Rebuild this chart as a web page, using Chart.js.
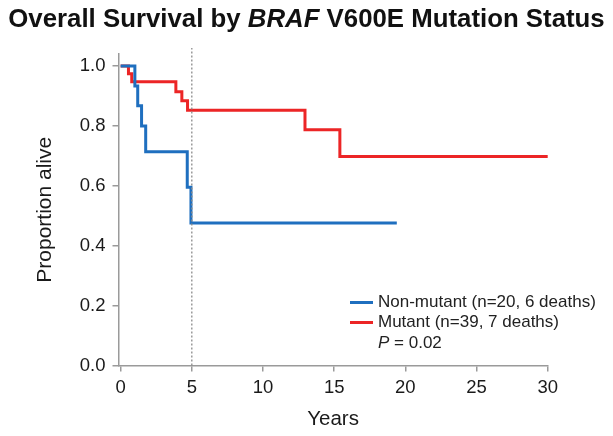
<!DOCTYPE html>
<html><head><meta charset="utf-8">
<script src="https://cdn.jsdelivr.net/npm/chart.js@4"></script>
<style>
html,body{margin:0;padding:0;background:#fff;}
#wrap{position:relative;width:613px;height:436px;font-family:"Liberation Sans",Arial,sans-serif;overflow:hidden;}
#title{position:absolute;left:0;top:3px;width:613px;text-align:center;font-weight:bold;font-size:25.8px;line-height:30px;color:#111;white-space:nowrap;}
#c{position:absolute;left:0;top:0;}
.leg{position:absolute;left:350px;font-size:17px;line-height:20px;height:20px;color:#222;white-space:nowrap;display:flex;align-items:center;}
.sw{display:inline-block;width:23px;height:3px;margin-right:5px;}
</style></head>
<body>
<div id="wrap">
<canvas id="c" width="613" height="436"></canvas>
<div id="title">Overall Survival by <i>BRAF</i> V600E Mutation Status</div>
<div class="leg" id="leg1" style="top:292px"><span class="sw" id="sw1"></span><span id="lt1"></span></div>
<div class="leg" id="leg2" style="top:312px"><span class="sw" id="sw2"></span><span id="lt2"></span></div>
<div class="leg" style="top:333px;left:378px"><span><i>P</i> = 0.02</span></div>
</div>
<script>
// Data
const nonMutantLabel = "Non-mutant (n=20, 6 deaths)";
const mutantLabel = "Mutant (n=39, 7 deaths)";
const nonMutantTimes = [0, 1.0, 1.2, 1.47, 1.76, 4.68, 4.94, 19.4];
const nonMutantSurv  = [1.0, 0.933, 0.867, 0.80, 0.714, 0.595, 0.476, 0.476];
const mutantTimes = [0, 0.55, 0.78, 3.88, 4.3, 4.7, 12.95, 15.4, 30];
const mutantSurv  = [1.0, 0.974, 0.947, 0.914, 0.884, 0.852, 0.787, 0.698, 0.698];
const xTickValues = [0, 5, 10, 15, 20, 25, 30];
const yTickValues = [0, 0.2, 0.4, 0.6, 0.8, 1.0];
const refLineX = [5, 5];
const refLineY = [0, 1.06];

const blue = '#1f6fbf';
const red = '#ec2526';
const axisGray = '#9a9a9a';

document.getElementById('sw1').style.background = blue;
document.getElementById('sw2').style.background = red;
document.getElementById('lt1').textContent = nonMutantLabel;
document.getElementById('lt2').textContent = mutantLabel;

const toPts = (xs, ys) => xs.map((x, i) => ({x: x, y: ys[i]}));

new Chart(document.getElementById('c'), {
  type: 'line',
  data: {
    datasets: [
      {label: 'ref', data: toPts(refLineX, refLineY), borderColor: '#8a8a8a', borderWidth: 1.3, borderDash: [2, 2], pointRadius: 0, clip: false},
      {label: nonMutantLabel, data: toPts(nonMutantTimes, nonMutantSurv), borderColor: blue, borderWidth: 3, stepped: 'before', pointRadius: 0, borderCapStyle: 'butt', clip: false},
      {label: mutantLabel, data: toPts(mutantTimes, mutantSurv), borderColor: red, borderWidth: 3, stepped: 'before', pointRadius: 0, borderCapStyle: 'butt', clip: false}
    ]
  },
  options: {
    responsive: false,
    animation: false,
    devicePixelRatio: 1,
    layout: {padding: {left: 29, top: 54, right: 65.3, bottom: 0}},
    plugins: {legend: {display: false}, title: {display: false}, tooltip: {enabled: false}},
    scales: {
      x: {
        type: 'linear', min: -0.15, max: 30,
        afterBuildTicks: s => { s.ticks = xTickValues.map(v => ({value: v})); },
        afterFit: s => { s.height = 70.5; },
        ticks: {font: {family: '"Liberation Sans", Arial, sans-serif', size: 18.5}, color: '#1a1a1a', padding: 5, maxRotation: 0, callback: v => String(v)},
        grid: {drawOnChartArea: false, drawTicks: true, tickLength: 6, color: axisGray, lineWidth: 1.5},
        border: {color: axisGray, width: 1.5},
        title: {display: true, text: 'Years', font: {family: '"Liberation Sans", Arial, sans-serif', size: 20.5}, color: '#1a1a1a', padding: {top: 4, bottom: 4}}
      },
      y: {
        type: 'linear', min: 0, max: 1.04,
        afterBuildTicks: s => { s.ticks = yTickValues.map(v => ({value: v})); },
        afterFit: s => { s.width = 89.5; },
        ticks: {font: {family: '"Liberation Sans", Arial, sans-serif', size: 18.5}, color: '#1a1a1a', padding: 7, callback: v => Number(v).toFixed(1)},
        grid: {drawOnChartArea: false, drawTicks: true, tickLength: 6, color: axisGray, lineWidth: 1.5},
        border: {color: axisGray, width: 1.5},
        title: {display: true, text: 'Proportion alive', font: {family: '"Liberation Sans", Arial, sans-serif', size: 21}, color: '#1a1a1a', padding: {top: 4, bottom: 4}}
      }
    }
  }
});
</script>
</body></html>
